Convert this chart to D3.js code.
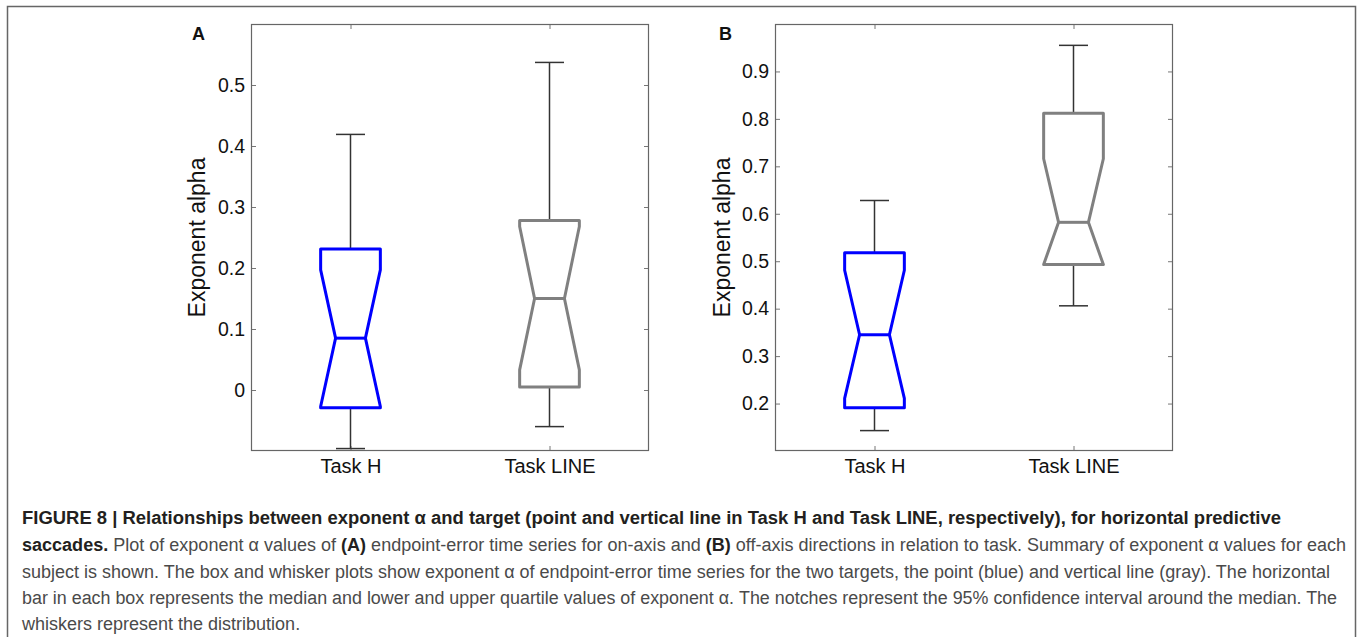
<!DOCTYPE html>
<html>
<head>
<meta charset="utf-8">
<script src="https://cdn.jsdelivr.net/npm/d3@7"></script>
<style>
  html, body { margin: 0; padding: 0; background: #fff; }
  svg { display: block; }
</style>
</head>
<body>
<svg id="chart" width="1357" height="637"></svg>
<script>
// ---- data ----
const categories = ["Task H", "Task LINE"];
const boxColors = ["#0000ff", "#808080"];

// Panel A (on-axis)
const aWhiskerLo = [-0.096, -0.060];
const aQ1        = [-0.029, 0.005];
const aNotchLo   = [-0.027, 0.033];
const aMedian    = [0.085, 0.150];
const aNotchHi   = [0.197, 0.268];
const aQ3        = [0.231, 0.278];
const aWhiskerHi = [0.419, 0.537];
const aTicks     = [0, 0.1, 0.2, 0.3, 0.4, 0.5];
const aDomain    = [-0.1, 0.6];

// Panel B (off-axis)
const bWhiskerLo = [0.143, 0.406];
const bQ1        = [0.191, 0.493];
const bNotchLo   = [0.211, 0.493];
const bMedian    = [0.345, 0.582];
const bNotchHi   = [0.481, 0.716];
const bQ3        = [0.518, 0.812];
const bWhiskerHi = [0.628, 0.955];
const bTicks     = [0.2, 0.3, 0.4, 0.5, 0.6, 0.7, 0.8, 0.9];
const bDomain    = [0.1, 1.0];

const captionLines = [
  [["b","FIGURE 8 | Relationships between exponent α and target (point and vertical line in Task H and Task LINE, respectively), for horizontal predictive"]],
  [["b","saccades."],["r"," Plot of exponent α values of "],["b","(A)"],["r"," endpoint-error time series for on-axis and "],["b","(B)"],["r"," off-axis directions in relation to task. Summary of exponent α values for each"]],
  [["r","subject is shown. The box and whisker plots show exponent α of endpoint-error time series for the two targets, the point (blue) and vertical line (gray). The horizontal"]],
  [["r","bar in each box represents the median and lower and upper quartile values of exponent α. The notches represent the 95% confidence interval around the median. The"]],
  [["r","whiskers represent the distribution."]]
];

// ---- drawing ----
const svg = d3.select("#chart");
const FONT = "'Liberation Sans', Arial, Helvetica, sans-serif";

svg.append("path")
  .attr("d", "M7.5,637 L7.5,6.5 L1355.5,6.5 L1355.5,637")
  .attr("fill", "none").attr("stroke", "#666").attr("stroke-width", 1.5);

function panel(opt) {
  const {left, top, width, height, letter, domain, ticks, d} = opt;
  const g = svg.append("g").attr("transform", `translate(${left},${top})`);
  const x = d3.scaleLinear().domain([0.5, 2.5]).range([0, width]);
  const y = d3.scaleLinear().domain(domain).range([height, 0]);

  const fmt = v => (Math.abs(v) < 1e-9 ? "0" : d3.format(".1f")(v));

  const ax = g.append("g").call(d3.axisLeft(y).tickValues(ticks).tickFormat(fmt)
      .tickSizeInner(-5).tickSizeOuter(0).tickPadding(6));
  const axr = g.append("g").attr("transform", `translate(${width},0)`)
    .call(d3.axisRight(y).tickValues(ticks).tickFormat("").tickSizeInner(-5).tickSizeOuter(0));
  const axb = g.append("g").attr("transform", `translate(0,${height})`)
    .call(d3.axisBottom(x).tickValues([1, 2]).tickFormat((v, i) => categories[i])
      .tickSizeInner(-5).tickSizeOuter(0).tickPadding(8));
  const axt = g.append("g")
    .call(d3.axisTop(x).tickValues([1, 2]).tickFormat("").tickSizeInner(-5).tickSizeOuter(0));

  [ax, axr, axb, axt].forEach(a => {
    a.select(".domain").remove();
    a.selectAll("line").attr("stroke", "#777").attr("stroke-width", 1);
    a.selectAll("text").attr("font-family", FONT).attr("font-size", 19.5).attr("fill", "#111");
  });
  axb.selectAll("text").attr("font-size", 20);

  g.append("rect").attr("x", 0.5).attr("y", 0.5).attr("width", width - 1).attr("height", height - 1)
    .attr("fill", "none").attr("stroke", "#666").attr("stroke-width", 1.2);

  g.append("text")
    .attr("transform", `translate(${opt.ylabelX},${height / 2}) rotate(-90)`)
    .attr("text-anchor", "middle").attr("dominant-baseline", "middle")
    .attr("font-family", FONT).attr("font-size", 23).attr("fill", "#111")
    .text("Exponent alpha");

  svg.append("text").attr("x", opt.letterX).attr("y", 40)
    .attr("font-family", FONT).attr("font-size", 18).attr("font-weight", "bold").attr("fill", "#111")
    .text(letter);

  const halfW = 0.15, notchW = 0.075, capW = 0.073;
  categories.forEach((c, i) => {
    const cx = i + 1;
    const q1 = d.q1[i], q3 = d.q3[i], med = d.median[i];
    const nLo = Math.max(q1, d.notchLo[i]), nHi = Math.min(q3, d.notchHi[i]);
    const wg = g.append("g").attr("stroke", "#333").attr("stroke-width", 1.5);
    wg.append("line").attr("x1", x(cx)).attr("x2", x(cx)).attr("y1", y(d.whiskerHi[i])).attr("y2", y(q3));
    wg.append("line").attr("x1", x(cx)).attr("x2", x(cx)).attr("y1", y(q1)).attr("y2", y(d.whiskerLo[i]));
    wg.append("line").attr("x1", x(cx - capW)).attr("x2", x(cx + capW)).attr("y1", y(d.whiskerHi[i])).attr("y2", y(d.whiskerHi[i]));
    wg.append("line").attr("x1", x(cx - capW)).attr("x2", x(cx + capW)).attr("y1", y(d.whiskerLo[i])).attr("y2", y(d.whiskerLo[i]));
    const pts = [
      [cx - halfW, q3], [cx + halfW, q3], [cx + halfW, nHi], [cx + notchW, med],
      [cx + halfW, nLo], [cx + halfW, q1], [cx - halfW, q1], [cx - halfW, nLo],
      [cx - notchW, med], [cx - halfW, nHi]
    ];
    g.append("path")
      .attr("d", d3.line().x(p => x(p[0])).y(p => y(p[1]))(pts) + "Z")
      .attr("fill", "none").attr("stroke", boxColors[i]).attr("stroke-width", 3)
      .attr("stroke-linejoin", "round");
    g.append("line").attr("x1", x(cx - notchW)).attr("x2", x(cx + notchW))
      .attr("y1", y(med)).attr("y2", y(med))
      .attr("stroke", boxColors[i]).attr("stroke-width", 3);
  });
}

panel({left: 251, top: 24, width: 398, height: 427, letter: "A", letterX: 192, ylabelX: -52,
  domain: aDomain, ticks: aTicks,
  d: {whiskerLo: aWhiskerLo, q1: aQ1, notchLo: aNotchLo, median: aMedian, notchHi: aNotchHi, q3: aQ3, whiskerHi: aWhiskerHi}});
panel({left: 775, top: 24, width: 398, height: 427, letter: "B", letterX: 719, ylabelX: -51,
  domain: bDomain, ticks: bTicks,
  d: {whiskerLo: bWhiskerLo, q1: bQ1, notchLo: bNotchLo, median: bMedian, notchHi: bNotchHi, q3: bQ3, whiskerHi: bWhiskerHi}});

// caption
const baselines = [524, 551, 578, 604, 630];
const lineEnds = [1281, 1346, 1330, 1337, null];
captionLines.forEach((segs, li) => {
  const t = svg.append("text").attr("x", 22).attr("y", baselines[li])
    .attr("font-family", FONT).attr("font-size", 18);
  segs.forEach(([style, str]) => {
    t.append("tspan")
      .attr("font-weight", style === "b" ? "bold" : "normal")
      .attr("fill", style === "b" ? "#231f20" : "#4a4a4a")
      .text(str);
  });
  if (lineEnds[li]) {
    t.attr("textLength", lineEnds[li] - 22).attr("lengthAdjust", "spacingAndGlyphs");
  }
});
</script>
</body>
</html>
